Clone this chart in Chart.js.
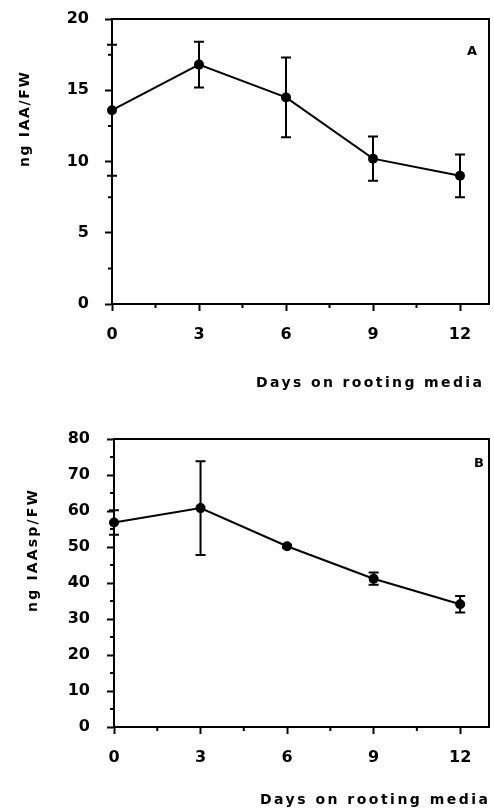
<!DOCTYPE html>
<html><head><meta charset="utf-8">
<script src="https://cdn.jsdelivr.net/npm/chart.js@4"></script>
<style>
html,body{margin:0;padding:0;background:#fff;}
#wrap{position:relative;width:494px;height:812px;overflow:hidden;background:#fff;}
canvas{position:absolute;left:0;}
</style></head><body>
<div id="wrap">
<canvas id="cA" width="494" height="406" style="top:0"></canvas>
<canvas id="cB" width="494" height="406" style="top:406px"></canvas>
</div>
<script>
// ---- data ----
const days = [0, 3, 6, 9, 12];
const iaaMean = [13.6, 16.8, 14.5, 10.2, 9.0];
const iaaErr = [4.6, 1.6, 2.8, 1.55, 1.5];
const iaaspMean = [56.8, 60.8, 50.2, 41.2, 34.1];
const iaaspErr = [3.4, 13.0, 0.4, 1.7, 2.3];
const xTicks = [0, 3, 6, 9, 12];
const xMinorTicks = [1.5, 4.5, 7.5, 10.5];
const yTicksA = [0, 5, 10, 15, 20];
const yMinorA = [2.5, 7.5, 12.5, 17.5];
const yTicksB = [0, 10, 20, 30, 40, 50, 60, 70, 80];
const yMinorB = [5, 15, 25, 35, 45, 55, 65, 75];
const xTitle = 'Days on rooting media';
const yTitleA = 'ng IAA/FW';
const yTitleB = 'ng IAAsp/FW';

const FONT = "'DejaVu Sans', sans-serif";

function drawSpaced(ctx, text, cx, cy, target) {
  ctx.letterSpacing = '0px';
  const w = ctx.measureText(text).width;
  const sp = (target - w) / (text.length - 1);
  ctx.letterSpacing = sp + 'px';
  ctx.textAlign = 'left';
  ctx.textBaseline = 'middle';
  ctx.fillText(text, cx - target / 2, cy);
  ctx.letterSpacing = '0px';
}

function zeroPad(s) { s.paddingLeft = 0; s.paddingRight = 0; s.paddingTop = 0; s.paddingBottom = 0; }

function makeChart(id, means, errs, yMax, yTicks, yMinor, yTitle, letter, g) {
  const H = 406;
  g.yw = g.left; g.xh = H - g.bottom;
  const deco = {
    id: 'deco' + id,
    beforeDatasetsDraw(chart) {
      const ctx = chart.ctx, xs = chart.scales.x, ys = chart.scales.y;
      ctx.save();
      ctx.strokeStyle = '#000';
      ctx.lineWidth = 2;
      for (let i = 0; i < days.length; i++) {
        const px = xs.getPixelForValue(days[i]);
        const t = ys.getPixelForValue(means[i] + errs[i]);
        const b = ys.getPixelForValue(means[i] - errs[i]);
        ctx.beginPath();
        ctx.moveTo(px, t); ctx.lineTo(px, b);
        ctx.moveTo(px - 5, t); ctx.lineTo(px + 5, t);
        ctx.moveTo(px - 5, b); ctx.lineTo(px + 5, b);
        ctx.stroke();
      }
      ctx.restore();
    },
    afterDraw(chart) {
      const ctx = chart.ctx, xs = chart.scales.x, ys = chart.scales.y, a = chart.chartArea;
      ctx.save();
      ctx.strokeStyle = '#000';
      ctx.lineWidth = 2;
      ctx.beginPath();
      ctx.moveTo(a.left, a.top); ctx.lineTo(a.right, a.top); ctx.lineTo(a.right, a.bottom);
      ctx.stroke();
      ctx.beginPath();
      xMinorTicks.forEach(v => { const p = xs.getPixelForValue(v); ctx.moveTo(p, a.bottom); ctx.lineTo(p, a.bottom + 4); });
      yMinor.forEach(v => { const p = ys.getPixelForValue(v); ctx.moveTo(a.left - 4, p); ctx.lineTo(a.left, p); });
      ctx.stroke();
      ctx.fillStyle = '#000';
      ctx.font = 'bold 14px ' + FONT;
      drawSpaced(ctx, xTitle, g.xtx, g.xty, g.xtw);
      ctx.save();
      ctx.translate(g.ytx, g.yty);
      ctx.rotate(-Math.PI / 2);
      drawSpaced(ctx, yTitle, 0, 0, g.ytw);
      ctx.restore();
      ctx.font = 'bold 13px ' + FONT;
      ctx.textAlign = 'center';
      ctx.textBaseline = 'middle';
      ctx.fillText(letter, g.lx, g.ly);
      ctx.restore();
    }
  };
  const tickFont = { family: FONT, weight: 'bold', size: 16 };
  const chart = new Chart(document.getElementById(id), {
    type: 'line',
    data: {
      datasets: [{
        data: days.map((d, i) => ({ x: d, y: means[i] })),
        borderColor: '#000', borderWidth: 2,
        pointRadius: 5, pointBackgroundColor: '#000', pointBorderColor: '#000', pointBorderWidth: 0,
        tension: 0, clip: false
      }]
    },
    options: {
      responsive: false, animation: false,
      layout: { padding: { left: 0, top: g.top, right: 494 - g.right, bottom: 0 } },
      plugins: { legend: { display: false }, tooltip: { enabled: false } },
      scales: {
        x: {
          type: 'linear', min: 0, max: 13,
          afterBuildTicks(s) { s.ticks = xTicks.map(v => ({ value: v })); },
          afterFit(s) { s.height = g.xh; zeroPad(s); },
          grid: { drawOnChartArea: false, drawTicks: true, tickLength: 7, tickWidth: 2, tickColor: '#000', color: '#000' },
          border: { display: true, width: 2, color: '#000' },
          ticks: { color: '#000', font: tickFont, padding: 14, maxRotation: 0 }
        },
        y: {
          type: 'linear', min: 0, max: yMax,
          afterBuildTicks(s) { s.ticks = yTicks.map(v => ({ value: v })); },
          afterFit(s) { s.width = g.yw; zeroPad(s); },
          grid: { drawOnChartArea: false, drawTicks: true, tickLength: 7, tickWidth: 2, tickColor: '#000', color: '#000' },
          border: { display: true, width: 2, color: '#000' },
          ticks: { color: '#000', font: tickFont, padding: g.ypad }
        }
      }
    },
    plugins: [deco]
  });
  // correct the layout so the plot frame lands where the reference has it
  for (let k = 0; k < 3; k++) {
    const ca = chart.chartArea, p = chart.options.layout.padding;
    const dr = g.right - ca.right, dt = g.top - ca.top, dl = g.left - ca.left, db = g.bottom - ca.bottom;
    if (Math.abs(dr) < 0.5 && Math.abs(dt) < 0.5 && Math.abs(dl) < 0.5 && Math.abs(db) < 0.5) break;
    p.right -= dr; p.top += dt; g.yw += dl; g.xh -= db;
    chart.update('none');
  }
  return chart;
}

makeChart('cA', iaaMean, iaaErr, 20, yTicksA, yMinorA, yTitleA, 'A',
  { left: 112, right: 492, top: 19, bottom: 304, ypad: 16, xtx: 369, xty: 383, xtw: 226, ytx: 25, yty: 119.5, ytw: 95, lx: 472, ly: 52 });
makeChart('cB', iaaspMean, iaaspErr, 80, yTicksB, yMinorB, yTitleB, 'B',
  { left: 114, right: 493, top: 33, bottom: 321, ypad: 17, xtx: 374, xty: 394, xtw: 228, ytx: 33, yty: 145, ytw: 122, lx: 479, ly: 58 });
</script>
</body></html>
